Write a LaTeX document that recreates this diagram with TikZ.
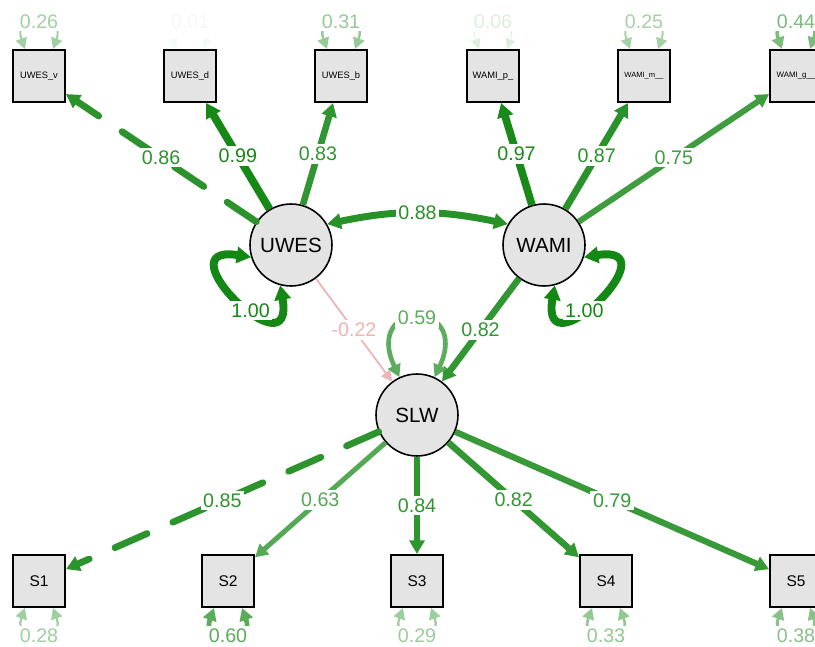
\documentclass[tikz,border=0pt]{standalone}
\usepackage{fontspec}
\setmainfont{Liberation Sans}
\usetikzlibrary{arrows.meta,calc}
\definecolor{posgreen}{RGB}{20,135,20}
\definecolor{negpink}{RGB}{238,180,180}
\definecolor{boxgrey}{RGB}{228,228,228}
\tikzset{
	manifest/.style={draw=black, line width=1.1pt, fill=boxgrey, minimum size=1.04cm, inner sep=0pt, font=\fontsize{5.3pt}{6pt}\selectfont},
	latent/.style={circle, draw=black, line width=0.9pt, fill=boxgrey, minimum size=1.64cm, inner sep=0pt, font=\fontsize{11.7pt}{13pt}\selectfont},
	wt/.style={/utils/exec={\pgfmathsetmacro\lw{max(#1*4.5,0.35)}\pgfmathsetmacro\mix{100*(#1)^0.7}}, line width=\lw pt, color=posgreen!\mix!white},
	headend/.style={-{Triangle[length=5.5pt 0.6,width=5.5pt 0.8]}},
	headboth/.style={{Triangle[length=5.5pt 0.6,width=5.5pt 0.8]}-{Triangle[length=5.5pt 0.6,width=5.5pt 0.8]}},
	fixedpar/.style={dash pattern=on 20pt off 16pt, line cap=round},
	elabel/.style={fill=white, inner sep=1.5pt, font=\fontsize{11.2pt}{12pt}\selectfont},
}
% residual variance loop above / below a box
\def\resup(#1)#2{\draw[wt=#2, headboth] ($(#1.north)+(-14,0)$) to[out=110,in=70,looseness=3.6] node[elabel]{#2} ($(#1.north)+(14,0)$);}
\def\resdown(#1)#2{\draw[wt=#2, headboth] ($(#1.south)+(-14,0)$) to[out=250,in=290,looseness=3.6] node[elabel]{#2} ($(#1.south)+(14,0)$);}

\begin{document}
\begin{tikzpicture}[x=0.02cm, y=0.02cm]
			%%%%% START %%%%%
			\useasboundingbox (0,0) rectangle (815,646);
			
			\node[latent] (UWES) at (291,401) {UWES};
			\node[latent] (WAMI) at (544,401) {WAMI};
			\node[latent] (SLW) at (417,231) {SLW};
			
			\node[manifest] (UWESv) at (39,570) {UWES\_v};
			\node[manifest] (UWESd) at (190,570) {UWES\_d};
			\node[manifest] (UWESb) at (341,570) {UWES\_b};
			\node[manifest] (WAMIp) at (493,570) {WAMI\_p\_};
			\node[manifest, font=\fontsize{4.3pt}{5pt}\selectfont] (WAMIm) at (644,570) {WAMI\_m\_\_};
			\node[manifest, font=\fontsize{4.5pt}{5pt}\selectfont] (WAMIg) at (796,570) {WAMI\_g\_\_};
			
			\node[manifest, font=\fontsize{8.8pt}{10pt}\selectfont] (S1) at (39,65) {S1};
			\node[manifest, font=\fontsize{8.8pt}{10pt}\selectfont] (S2) at (228,65) {S2};
			\node[manifest, font=\fontsize{8.8pt}{10pt}\selectfont] (S3) at (417,65) {S3};
			\node[manifest, font=\fontsize{8.8pt}{10pt}\selectfont] (S4) at (606,65) {S4};
			\node[manifest, font=\fontsize{8.8pt}{10pt}\selectfont] (S5) at (796,65) {S5};
			
			% loadings
			\draw[wt=0.86, fixedpar, headend] (UWES) -- node[elabel]{0.86} (UWESv);
			\draw[wt=0.99, headend] (UWES) -- node[elabel]{0.99} (UWESd);
			\draw[wt=0.83, headend] (UWES) -- node[elabel]{0.83} (UWESb);
			\draw[wt=0.97, headend] (WAMI) -- node[elabel]{0.97} (WAMIp);
			\draw[wt=0.87, headend] (WAMI) -- node[elabel]{0.87} (WAMIm);
			\draw[wt=0.75, headend] (WAMI) -- node[elabel]{0.75} (WAMIg);
			
			\draw[wt=0.85, fixedpar, headend] (SLW) -- node[elabel]{0.85} (S1);
			\draw[wt=0.63, headend] (SLW) -- node[elabel]{0.63} (S2);
			\draw[wt=0.84, headend] (SLW) -- node[elabel]{0.84} (S3);
			\draw[wt=0.82, headend] (SLW) -- node[elabel]{0.82} (S4);
			\draw[wt=0.79, headend] (SLW) -- node[elabel]{0.79} (S5);
			
			% regressions and covariance
			\draw[line width=1pt, color=negpink, headend] (UWES) -- node[elabel]{-0.22} (SLW);
			\draw[wt=0.82, headend] (WAMI) -- node[elabel]{0.82} (SLW);
			\draw[wt=0.88, headboth] (UWES.30) to[bend left=12] node[elabel]{0.88} (WAMI.150);
			
			% latent variances
			\draw[wt=1, headboth] (UWES.197) to[out=171,in=280,looseness=5.8] node[elabel, pos=0.6]{1.00} (UWES.255);
			\draw[wt=1, headboth] (WAMI.343) to[out=9,in=260,looseness=5.8] node[elabel, pos=0.6]{1.00} (WAMI.285);
			\draw[wt=0.59, headboth] (SLW.115) to[out=115,in=65,looseness=6.3] node[elabel]{0.59} (SLW.65);
			
			% residuals
			\resup(UWESv){0.26}
			\resup(UWESd){0.01}
			\resup(UWESb){0.31}
			\resup(WAMIp){0.06}
			\resup(WAMIm){0.25}
			\resup(WAMIg){0.44}
			\resdown(S1){0.28}
			\resdown(S2){0.60}
			\resdown(S3){0.29}
			\resdown(S4){0.33}
			\resdown(S5){0.38}
			
			%%%%% END %%%%%
\end{tikzpicture}
\end{document}
